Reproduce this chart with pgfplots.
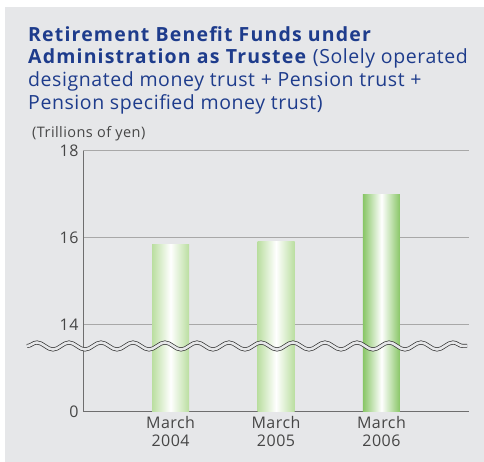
\documentclass[border=0pt]{standalone}
\usepackage{fontspec}
\setmainfont{Open Sans}[LetterSpace=3, BoldFeatures={LetterSpace=6}]
\usepackage{pgfplots}
\pgfplotsset{compat=1.18}
\usetikzlibrary{decorations.pathmorphing}
\definecolor{bg}{RGB}{230,231,233}
\definecolor{ttl}{RGB}{30,60,140}
\definecolor{txt}{RGB}{70,70,70}
\definecolor{gl}{RGB}{186,222,160}
\definecolor{gd}{RGB}{136,198,102}
\definecolor{gridc}{RGB}{168,168,168}
\definecolor{axc}{RGB}{110,110,110}
\begin{document}
\begin{tikzpicture}
\fill[white] (0,0) rectangle (484pt,462pt);
\fill[bg] (5pt,0) rectangle (484pt,455pt);
\node[anchor=north west, align=left, text=ttl, font=\fontsize{19.5}{22.7}\selectfont, inner sep=0pt] at (28pt,436pt)
 {\textbf{Retirement Benefit Funds under}\\ \textbf{Administration as Trustee} (Solely operated\\ designated money trust + Pension trust +\\ Pension specified money trust)};
\node[anchor=base west, text=txt, font=\fontsize{14.5}{16}\selectfont, inner sep=0pt] at (32pt,324pt) {(Trillions of yen)};
\begin{axis}[
  at={(83pt,50pt)}, anchor=origin,
  scale only axis, width=386pt, height=261pt,
  xmin=0.17, xmax=3.83, ymin=0, ymax=18,
  y coord trafo/.code={\pgfmathparse{(#1>=14)?((#1-12)/2):(#1/14)}},
  ytick={0,14,16,18}, yticklabels={0,14,16,18},
  xtick={1,2,3}, xticklabels={{March\\2004},{March\\2005},{March\\2006}},
  xticklabel style={align=center, font=\fontsize{16}{18}\selectfont, text=txt, yshift=-1pt},
  yticklabel style={font=\fontsize{16}{18}\selectfont, text=txt, xshift=-1pt},
  /pgf/number format/assume math mode=true,
  major tick length=0pt,
  axis x line*=bottom, axis y line*=left,
  x axis line style={draw=axc, line width=1pt, -},
  y axis line style={draw=axc, line width=1pt, -},
  ymajorgrids, grid style={draw=gridc, line width=1pt},
  ybar, bar width=37pt, bar shift=0pt,
]
\addplot[draw=none, left color=gl, right color=gl, middle color=white] coordinates {(1,15.85)};
\addplot[draw=none, left color=gl, right color=gl, middle color=white] coordinates {(2,15.92)};
\addplot[draw=none, left color=gd, right color=gd, middle color=white] coordinates {(3,17.0)};
\end{axis}
\draw[decorate, decoration={snake, amplitude=3.5pt, segment length=32pt}, double=bg, double distance=2.6pt, draw=black!80, line width=0.7pt] (27pt,116pt) -- (467pt,116pt);
\end{tikzpicture}
\end{document}
